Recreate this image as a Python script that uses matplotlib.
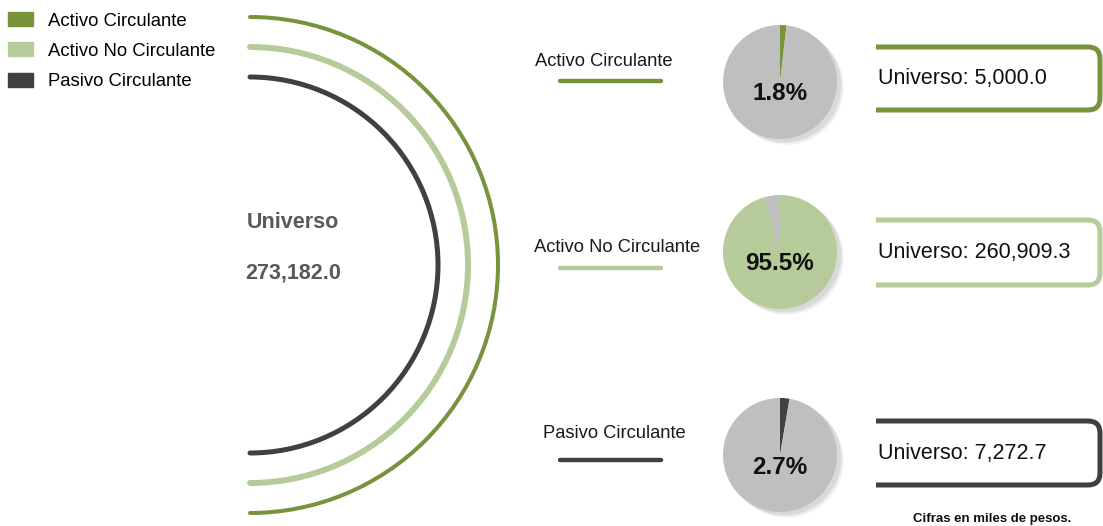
import matplotlib.pyplot as plt
from matplotlib.patches import Arc, Circle, Patch, PathPatch
from matplotlib.path import Path

plt.rcParams['font.family'] = ['Liberation Sans', 'DejaVu Sans']

# datos (miles de pesos)
categorias = ["Activo Circulante", "Activo No Circulante", "Pasivo Circulante"]
montos = [5000.0, 260909.3, 7272.7]
universo_total = 273182.0
colores = ["#77933C", "#B6CB9A", "#404040"]
gris = "#BFBFBF"

W, H = 1103, 526
fig = plt.figure(figsize=(W / 100, H / 100), dpi=100)
ax = fig.add_axes([0, 0, 1, 1])


def Y(y):
    # coordenadas de pixel (y hacia abajo) -> datos
    return H - y


# semicirculos
cx, cy = 250, 265
radios = [248, 218, 188]
grosores = [2.9, 4.3, 3.6]
for col, r, lw in zip(colores, radios, grosores):
    ax.add_patch(Arc((cx, Y(cy)), 2 * r, 2 * r, theta1=-90, theta2=90,
                     color=col, lw=lw, capstyle='round'))

ax.text(293, Y(222), "Universo", ha='center', va='center', fontsize=15.5,
        fontweight='bold', color="#595959")
ax.text(293, Y(273), f"{universo_total:,.1f}", ha='center', va='center',
        fontsize=15.5, fontweight='bold', color="#595959")

# filas
filas_y = [82, 252, 455]
etiqueta_x = [604, 617, 614]
etiqueta_y = [62, 248, 434]
linea_y = [81, 268, 460]
caja_y = [(47, 110), (220, 285), (421, 485)]
px, pr = 780, 57

for i, cat in enumerate(categorias):
    pct = montos[i] / universo_total * 100
    # etiqueta y linea
    ax.text(etiqueta_x[i], Y(etiqueta_y[i]), cat,
            ha='center', va='center', fontsize=13.2, color="#1a1a1a")
    ax.plot([560, 661], [Y(linea_y[i])] * 2, color=colores[i], lw=3.2,
            solid_capstyle='round')

    # sombra del pastel
    for k, a in [(7, 0.05), (6, 0.07), (5, 0.09), (4, 0.1)]:
        ax.add_patch(Circle((px + k, Y(filas_y[i]) - k + 1), pr, color="#7f7f7f",
                            alpha=a, lw=0, zorder=1))
    ax.pie([pct, 100 - pct], colors=[colores[i], gris], startangle=90,
           counterclock=False, center=(px, Y(filas_y[i])), radius=pr,
           frame=True, wedgeprops=dict(lw=0, zorder=2))
    ax.text(px, Y(filas_y[i] + 12), f"{pct:.1f}%", ha='center', va='center',
            fontsize=17.5, fontweight='bold', color="#111111", zorder=3)

    # caja abierta por la izquierda
    t, b = caja_y[i]
    x0, x1, rc = 876, 1100, 12
    verts = [(x0, Y(t)), (x1 - rc, Y(t)), (x1, Y(t)), (x1, Y(t) - rc),
             (x1, Y(b) + rc), (x1, Y(b)), (x1 - rc, Y(b)), (x0, Y(b))]
    codes = [Path.MOVETO, Path.LINETO, Path.CURVE3, Path.CURVE3,
             Path.LINETO, Path.CURVE3, Path.CURVE3, Path.LINETO]
    ax.add_patch(PathPatch(Path(verts, codes), fill=False, ec=colores[i],
                           lw=3.6, capstyle='butt', joinstyle='round'))
    ax.text(878, Y((t + b) / 2), f"Universo: {montos[i]:,.1f}", ha='left',
            va='center', fontsize=15.5, color="#111111")

ax.text(992, Y(519), "Cifras en miles de pesos.", ha='center', va='center',
        fontsize=9.5, fontweight='bold', color="#111111")

# leyenda
handles = [Patch(color=c, label=l) for c, l in zip(colores, categorias)]
ax.legend(handles=handles, loc='upper left', bbox_to_anchor=(0.0005, 0.991),
          frameon=False, fontsize=13.3, handlelength=1.35, handleheight=0.8,
          handletextpad=0.8, labelspacing=0.69, borderaxespad=0)

ax.set_xlim(0, W)
ax.set_ylim(0, H)
ax.set_aspect('auto')
ax.axis('off')

fig.savefig("out.png", dpi=100)
